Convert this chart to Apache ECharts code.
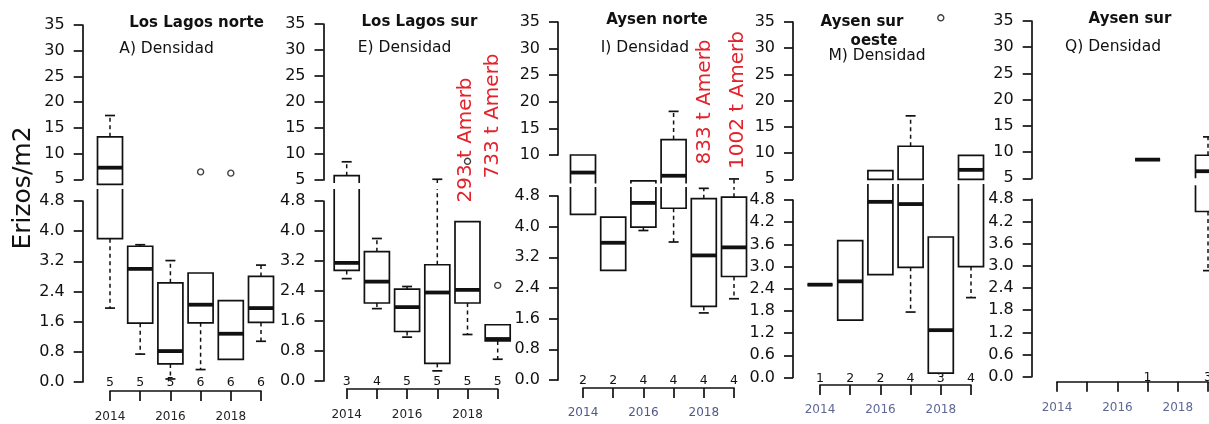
<!DOCTYPE html>
<html><head><meta charset="utf-8">
<style>html,body{margin:0;padding:0;background:#fff}#c{width:1209px;height:424px}</style>
<script src="https://cdn.jsdelivr.net/npm/echarts@6.0.0/dist/echarts.min.js"></script>
</head><body><div id="c"></div>
<script>
// ---------- data ----------
const years = ['2014', '2015', '2016', '2017', '2018', '2019'];
// each box: [min, q1, median, q3, max]
const llNorteBox = [[1.96, 3.8, 7.26, 13.25, 17.4], [0.74, 1.56, 3.0, 3.6, 3.64], [0.08, 0.48, 0.82, 2.63, 3.22], [0.33, 1.57, 2.05, 2.89, 2.89], [0.6, 0.6, 1.28, 2.16, 2.16], [1.08, 1.58, 1.96, 2.8, 3.1]];
const llNorteOut = [[3, 6.44], [4, 6.2]];
const llNorteN = [5, 5, 5, 6, 6, 6];

const llSurBox = [[2.73, 2.95, 3.15, 5.83, 8.5], [1.93, 2.08, 2.65, 3.45, 3.8], [1.17, 1.32, 1.97, 2.45, 2.52], [0.27, 0.47, 2.36, 3.1, 5.14], [1.24, 2.08, 2.43, 4.25, 4.25], [0.58, 1.07, 1.12, 1.5, 1.5]];
const llSurOut = [[4, 8.6], [5, 2.55]];
const llSurN = [3, 4, 5, 5, 5, 5];

const ayNorteBox = [[4.32, 4.32, 6.7, 10.0, 10.0], [2.86, 2.86, 3.58, 4.25, 4.25], [3.9, 3.99, 4.62, 5.15, 5.15], [3.6, 4.48, 6.1, 12.9, 18.2], [1.75, 1.92, 3.25, 4.73, 5.0], [2.12, 2.7, 3.46, 4.77, 5.5]];
const ayNorteOut = [];
const ayNorteN = [2, 2, 4, 4, 4, 4];

const aySurOesteBox = [[2.51, 2.51, 2.51, 2.51, 2.51], [1.55, 1.55, 2.6, 3.7, 3.7], [2.78, 2.78, 4.75, 6.67, 6.67], [1.77, 2.98, 4.69, 11.3, 17.1], [0.12, 0.12, 1.28, 3.8, 3.8], [2.16, 3.0, 6.8, 9.55, 9.55]];
const aySurOesteOut = [[4, 35.8]];
const aySurOesteN = [1, 2, 2, 4, 3, 4];

const aySurBox = [null, null, null, [8.56, 8.56, 8.56, 8.56, 8.56], null, [2.87, 4.47, 6.35, 9.4, 12.9]];
const aySurOut = [];
const aySurN = [null, null, null, 1, null, 3];

const CUT = 5.05; // values above are drawn on the upper (5-35) scale

// ---------- layout ----------
const panels = [
  {box: llNorteBox, out: llNorteOut, n: llNorteN, left: 110, axisX: 82.7, uTop: 25, uH: 154.3, uMin: 5, lTop: 201, lH: 181, lInt: 0.8, ext: 12, brk: 5, closed: true, xOff: 9, lm: 20, yc: '#222'},
  {box: llSurBox, out: llSurOut, n: llSurN, left: 346.7, axisX: 323.5, uTop: 24, uH: 156, uMin: 5, lTop: 201, lH: 180, lInt: 0.8, ext: 12, brk: 3, closed: false, xOff: 8, lm: 20, yc: '#222'},
  {box: ayNorteBox, out: ayNorteOut, n: ayNorteN, left: 583, axisX: 558, uTop: 22, uH: 133, uMin: 10, lTop: 196, lH: 184, lInt: 0.8, ext: 9, brk: 2, closed: false, xOff: 8, lm: 19, yc: '#4f5888'},
  {box: aySurOesteBox, out: aySurOesteOut, n: aySurOesteN, left: 820, axisX: 793, uTop: 22, uH: 157.3, uMin: 5, lTop: 200, lH: 177.5, lInt: 0.6, ext: 16, brk: 0, closed: true, xOff: 7.5, lm: 19, yc: '#5f6796'},
  {box: aySurBox, out: aySurOut, n: aySurN, left: 1057, axisX: 1031.7, uTop: 21, uH: 157.3, uMin: 5, lTop: 199.3, lH: 177.4, lInt: 0.6, ext: 14, brk: 0, closed: false, xOff: 5, lm: 20, yc: '#5f6796'}
];

const INK = '#111';
const FONT = 'DejaVu Sans';

function makeRender(part, cfg) {
  return function (params, api) {
    const cat = api.value(0);
    const mn = api.value(1), q1 = api.value(2), md = api.value(3), q3 = api.value(4), mx = api.value(5);
    const Y = v => api.coord([cat, v])[1];
    const x = api.coord([cat, part === 'upper' ? 20 : 2])[0];
    const h = 12.5, cap = 5;
    const ch = [];
    const solid = {stroke: INK, lineWidth: 1.7, fill: 'none'};
    const dashed = {stroke: INK, lineWidth: 1.5, lineDash: [4, 3.5], fill: 'none'};
    const line = (x1, y1, x2, y2, style) => ch.push({type: 'line', shape: {x1, y1, x2, y2}, style});
    const poly = (pts) => ch.push({type: 'polyline', shape: {points: pts}, style: solid});
    if (part === 'upper') {
      const inU = v => v > CUT;
      const yB = Y(5) + cfg.brk;
      if (inU(q3)) {
        const yT = Y(q3);
        if (inU(q1)) {
          if (q1 === q3) line(x - h, yT, x + h, yT, solid);
          else ch.push({type: 'rect', shape: {x: x - h, y: yT, width: 2 * h, height: Y(q1) - yT}, style: solid});
        } else if (cfg.closed) {
          ch.push({type: 'rect', shape: {x: x - h, y: yT, width: 2 * h, height: yB - yT}, style: solid});
        } else {
          poly([[x - h, yB], [x - h, yT], [x + h, yT], [x + h, yB]]);
        }
      }
      if (inU(md)) line(x - h, Y(md), x + h, Y(md), {stroke: INK, lineWidth: 3.8});
      if (inU(mx) && mx > q3) {
        const yf = inU(q3) ? Y(q3) : yB;
        line(x, yf, x, Y(mx), dashed);
        line(x - cap, Y(mx), x + cap, Y(mx), solid);
      }
      if (inU(q1) && mn < q1) {
        const yt = inU(mn) ? Y(mn) : yB;
        line(x, Y(q1), x, yt, dashed);
        if (inU(mn)) line(x - cap, Y(mn), x + cap, Y(mn), solid);
      }
    } else {
      const inL = v => v <= CUT;
      const yT = Y(4.8) - cfg.ext;
      if (inL(q1)) {
        const yb = Y(q1);
        if (inL(q3)) {
          if (q1 === q3) line(x - h, yb, x + h, yb, solid);
          else ch.push({type: 'rect', shape: {x: x - h, y: Y(q3), width: 2 * h, height: yb - Y(q3)}, style: solid});
        } else {
          poly([[x - h, yT], [x - h, yb], [x + h, yb], [x + h, yT]]);
        }
      }
      if (inL(md)) line(x - h, Y(md), x + h, Y(md), {stroke: INK, lineWidth: 3.8});
      if (inL(q3) && mx > q3) {
        const yt = inL(mx) ? Y(mx) : yT;
        line(x, Y(q3), x, yt, dashed);
        if (inL(mx)) line(x - cap, Y(mx), x + cap, Y(mx), solid);
      }
      if (mn < q1 && inL(mn)) {
        const yf = inL(q1) ? Y(q1) : yT;
        line(x, yf, x, Y(mn), dashed);
        line(x - cap, Y(mn), x + cap, Y(mn), solid);
      }
    }
    return {type: 'group', children: ch};
  };
}

function countRender(params, api) {
  const p = api.coord([api.value(0), 0]);
  return {type: 'text', x: p[0], y: p[1] + 1,
    style: {text: String(api.value(1)), fill: INK, font: '12.5px "' + FONT + '"', align: 'center', verticalAlign: 'middle', textAlign: 'center', textVerticalAlign: 'middle'}};
}

const grid = [], xAxis = [], yAxis = [], series = [];
const axLine = {show: true, lineStyle: {color: INK, width: 1.7}};
const axTick = {show: true, length: 9, lineStyle: {color: INK, width: 1.7}};
panels.forEach((p, i) => {
  const gu = 2 * i, gl = 2 * i + 1;
  grid.push({left: p.left, width: 151, top: p.uTop, height: p.uH, containLabel: false, outerBoundsMode: 'none'});
  grid.push({left: p.left, width: 151, top: p.lTop, height: p.lH, containLabel: false, outerBoundsMode: 'none'});
  xAxis.push({gridIndex: gu, type: 'category', data: years, boundaryGap: false, show: false});
  xAxis.push({gridIndex: gl, type: 'category', data: years, boundaryGap: false, position: 'bottom', offset: p.xOff,
    axisLine: {show: true, onZero: false, lineStyle: {color: INK, width: 1.7}},
    axisTick: {show: true, interval: 0, length: 10, lineStyle: {color: INK, width: 1.7}},
    axisLabel: {interval: 1, margin: p.lm, color: p.yc, fontFamily: FONT, fontSize: 12},
    splitLine: {show: false}});
  const off = p.left - p.axisX;
  yAxis.push({gridIndex: gu, type: 'value', min: p.uMin, max: 35, interval: 5, offset: off,
    axisLine: axLine, axisTick: axTick, splitLine: {show: false},
    axisLabel: {margin: 18, color: INK, fontFamily: FONT, fontSize: 16, formatter: v => String(v)}});
  yAxis.push({gridIndex: gl, type: 'value', min: 0, max: 4.8, interval: p.lInt, offset: off,
    axisLine: axLine, axisTick: axTick, splitLine: {show: false},
    axisLabel: {margin: 18, color: INK, fontFamily: FONT, fontSize: 16, formatter: v => v.toFixed(1)}});
  const data = p.box.map((b, k) => b ? [k].concat(b) : null).filter(Boolean);
  series.push({type: 'custom', xAxisIndex: gu, yAxisIndex: gu, data, renderItem: makeRender('upper', p), encode: {x: 0, y: [1, 2, 3, 4, 5]}, silent: true, z: 3});
  series.push({type: 'custom', xAxisIndex: gl, yAxisIndex: gl, data, renderItem: makeRender('lower', p), encode: {x: 0, y: [1, 2, 3, 4, 5]}, silent: true, z: 3});
  const nData = p.n.map((v, k) => v == null ? null : [k, v]).filter(Boolean);
  series.push({type: 'custom', xAxisIndex: gl, yAxisIndex: gl, data: nData, renderItem: countRender, encode: {x: 0, y: 1}, silent: true, z: 3});
  const oU = p.out.filter(o => o[1] > CUT), oL = p.out.filter(o => o[1] <= CUT);
  const sc = (d, g) => ({type: 'scatter', xAxisIndex: g, yAxisIndex: g, data: d, symbol: 'circle', symbolSize: 6, clip: false, silent: true, z: 4,
    itemStyle: {color: '#fff', borderColor: INK, borderWidth: 1.4}});
  if (oU.length) series.push(sc(oU, gu));
  if (oL.length) series.push(sc(oL, gl));
});

const titles = [
  {t: 'Erizos/m2', x: 23, y: 188, rot: 90, f: '25px "' + FONT + '"'},
  {t: 'Los Lagos norte', x: 196.5, y: 23, f: 'bold 15px "' + FONT + '"'},
  {t: 'A) Densidad', x: 166.5, y: 49, f: '15.5px "' + FONT + '"'},
  {t: 'Los Lagos sur', x: 419.5, y: 22, f: 'bold 15px "' + FONT + '"'},
  {t: 'E) Densidad', x: 404.5, y: 48, f: '15.5px "' + FONT + '"'},
  {t: 'Aysen norte', x: 657, y: 20, f: 'bold 15px "' + FONT + '"'},
  {t: 'I) Densidad', x: 645, y: 48, f: '15.5px "' + FONT + '"'},
  {t: 'Aysen sur', x: 862, y: 22, f: 'bold 15px "' + FONT + '"'},
  {t: 'oeste', x: 874, y: 41, f: 'bold 15px "' + FONT + '"'},
  {t: 'M) Densidad', x: 877, y: 56, f: '15.5px "' + FONT + '"'},
  {t: 'Aysen sur', x: 1130, y: 19, f: 'bold 15px "' + FONT + '"'},
  {t: 'Q) Densidad', x: 1113, y: 47, f: '15.5px "' + FONT + '"'},
  {t: '293 t Amerb', x: 466, y: 140, rot: 90, f: '20px "' + FONT + '"', c: '#e4222b'},
  {t: '733 t Amerb', x: 493, y: 116, rot: 90, f: '20px "' + FONT + '"', c: '#e4222b'},
  {t: '833 t Amerb', x: 705, y: 102, rot: 90, f: '20px "' + FONT + '"', c: '#e4222b'},
  {t: '1002 t Amerb', x: 738, y: 100, rot: 90, f: '20px "' + FONT + '"', c: '#e4222b'}
];
const graphic = titles.map(o => ({type: 'text', x: o.x, y: o.y, rotation: (o.rot || 0) * Math.PI / 180, z: 1, silent: true,
  style: {text: o.t, font: o.f, fill: o.c || INK, align: 'center', verticalAlign: 'middle', textAlign: 'center', textVerticalAlign: 'middle'}}));

const chart = echarts.init(document.getElementById('c'), null, {renderer: 'canvas'});
chart.setOption({animation: false, backgroundColor: '#fff', grid, xAxis, yAxis, series, graphic});
</script></body></html>
